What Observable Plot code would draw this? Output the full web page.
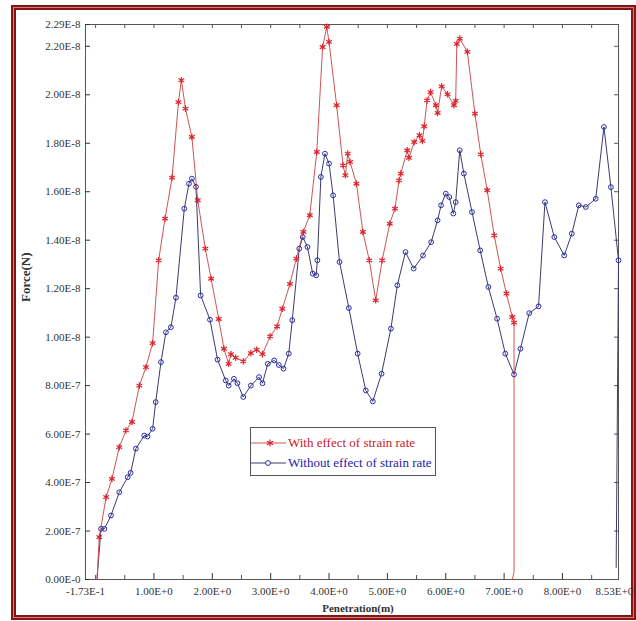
<!DOCTYPE html>
<html><head><meta charset="utf-8">
<script src="https://cdn.jsdelivr.net/npm/d3@7"></script>
<script src="https://cdn.jsdelivr.net/npm/@observablehq/plot@0.6"></script>
<style>
body{margin:0;background:#fff;}
#wrap{position:relative;width:636px;height:621px;overflow:hidden;}
#b1{position:absolute;left:11px;top:5px;width:621px;height:611px;border:2px solid #871414;background:#c98080;}
#b2{position:absolute;left:14px;top:8px;width:615px;height:605px;border:2px solid #871414;background:#fff;}
#chart{position:absolute;left:0;top:0;}
#legend{position:absolute;left:250px;top:427px;width:184px;height:47px;border:1px solid #555;background:#fff;font-family:"Liberation Serif",serif;font-size:13px;}
#legend svg{position:absolute;left:0;top:0;}
#legend span{position:absolute;left:37px;white-space:nowrap;line-height:1;}
</style></head>
<body>
<div id="wrap">
  <div id="b1"></div><div id="b2"></div>
  <div id="chart"></div>
  <div id="legend"></div>
</div>
<script>
// "With effect of strain rate"
const withX = [0.024,0.063,0.18,0.28,0.406,0.52,0.623,0.75,0.863,0.977,1.08,1.19,1.31,1.42,1.47,1.54,1.65,1.75,1.88,1.98,2.11,2.20,2.28,2.32,2.40,2.53,2.66,2.76,2.86,2.99,3.11,3.20,3.33,3.44,3.56,3.67,3.79,3.89,3.96,4.00,4.13,4.24,4.28,4.32,4.36,4.47,4.58,4.69,4.80,4.91,5.04,5.13,5.20,5.23,5.34,5.37,5.46,5.55,5.60,5.63,5.68,5.74,5.83,5.86,5.93,6.03,6.14,6.17,6.19,6.24,6.37,6.50,6.60,6.71,6.83,6.94,7.04,7.14,7.17,7.17,7.14];
const withY = [0,0.175,0.34,0.415,0.546,0.615,0.65,0.80,0.876,0.975,1.317,1.489,1.658,1.97,2.06,1.943,1.826,1.565,1.365,1.241,1.075,0.952,0.89,0.93,0.915,0.90,0.934,0.948,0.93,1.003,1.044,1.117,1.22,1.324,1.434,1.503,1.764,2.197,2.28,2.218,1.957,1.709,1.668,1.757,1.723,1.633,1.434,1.317,1.152,1.317,1.468,1.53,1.647,1.675,1.771,1.74,1.805,1.833,1.81,1.87,1.977,2.011,1.957,1.925,2.035,2.002,1.957,1.975,2.21,2.232,2.177,1.922,1.754,1.606,1.42,1.283,1.18,1.083,1.06,0.03,0];
// "Without effect of strain rate"
const withoutX = [0.024,0.093,0.15,0.264,0.406,0.55,0.60,0.69,0.834,0.89,0.977,1.03,1.12,1.205,1.29,1.377,1.52,1.60,1.65,1.72,1.80,1.96,2.09,2.23,2.28,2.37,2.43,2.53,2.66,2.80,2.86,2.95,3.06,3.14,3.22,3.31,3.37,3.49,3.55,3.63,3.72,3.78,3.80,3.86,3.93,4.00,4.07,4.18,4.34,4.49,4.63,4.75,4.90,5.06,5.17,5.31,5.45,5.61,5.75,5.86,5.92,6.00,6.06,6.13,6.17,6.24,6.31,6.45,6.59,6.73,6.88,7.02,7.17,7.28,7.43,7.59,7.70,7.86,8.03,8.16,8.28,8.40,8.57,8.71,8.83,8.96,8.92];
const withoutY = [0,0.209,0.209,0.264,0.36,0.422,0.44,0.54,0.594,0.59,0.622,0.732,0.897,1.02,1.041,1.163,1.53,1.633,1.654,1.62,1.172,1.072,0.907,0.821,0.80,0.828,0.81,0.753,0.80,0.835,0.81,0.89,0.904,0.885,0.87,0.932,1.07,1.365,1.413,1.372,1.262,1.255,1.317,1.661,1.757,1.716,1.585,1.31,1.12,0.932,0.78,0.735,0.849,1.035,1.214,1.351,1.283,1.337,1.392,1.482,1.544,1.592,1.578,1.51,1.557,1.771,1.675,1.516,1.358,1.207,1.076,0.932,0.846,0.952,1.099,1.127,1.557,1.413,1.337,1.427,1.544,1.537,1.571,1.867,1.619,1.317,0.05];

const seriesNames = ["With effect of strain rate","Without effect of strain rate"];
const xTickValues = [-0.173,1,2,3,4,5,6,7,8,8.89];
const xTickLabels = ["-1.73E-1","1.00E+0","2.00E+0","3.00E+0","4.00E+0","5.00E+0","6.00E+0","7.00E+0","8.00E+0","8.53E+0"];
const xMinorTicks = [0,0.5,1.5,2.5,3.5,4.5,5.5,6.5,7.5,8.5];
const yTickValues = [0,0.2,0.4,0.6,0.8,1.0,1.2,1.4,1.6,1.8,2.0,2.2,2.29];
const yTickLabels = ["0.00E-0","2.00E-7","4.00E-7","6.00E-7","8.00E-7","1.00E-8","1.20E-8","1.40E-8","1.60E-8","1.80E-8","2.00E-8","2.20E-8","2.29E-8"];
const xLabel = "Penetration(m)";
const yLabel = "Force(N)";

const withData = withX.map((x,i)=>({x, y: withY[i]}));
const withoutData = withoutX.map((x,i)=>({x, y: withoutY[i]}));

const redLine = "#d05555", redMark = "#e0202a", blueLine = "#3b3b6e", blueMark = "#2b2ba8";
const W = 636-85-18, H = 621-24-42;

const chart = Plot.plot({
  width:636, height:621,
  marginLeft:85, marginRight:18, marginTop:24, marginBottom:42,
  x:{domain:[-0.173,8.96]},
  y:{domain:[0,2.29]},
  style:{fontFamily:"'Liberation Serif', serif", fontSize:"11px", color:"#333", background:"transparent"},
  marks:[
    Plot.frame({stroke:"#555"}),
    Plot.axisX({ticks:xTickValues, tickFormat:d=>xTickLabels[xTickValues.indexOf(d)], tickSize:0, tickPadding:8, label:null}),
    Plot.axisY({ticks:yTickValues, tickFormat:d=>yTickLabels[yTickValues.indexOf(d)], tickSize:0, tickPadding:5, label:null}),
    Plot.tickX(xTickValues.slice(1,9), {x:d=>d, insetTop:H-6, stroke:"#333"}),
    Plot.tickX(xMinorTicks, {x:d=>d, insetTop:H-4, stroke:"#555"}),
    Plot.tickX(xTickValues.slice(1,9).concat(xMinorTicks), {x:d=>d, insetBottom:H-4, stroke:"#555"}),
    Plot.tickY(yTickValues, {y:d=>d, insetRight:W-5, stroke:"#333"}),
    Plot.tickY(yTickValues, {y:d=>d, insetLeft:W-4, stroke:"#555"}),
    Plot.line(withoutData, {x:"x", y:"y", stroke:blueLine, strokeWidth:1}),
    Plot.line(withData, {x:"x", y:"y", stroke:redLine, strokeWidth:1}),
    Plot.dot(withoutData.filter(d=>d.y>0.1), {x:"x", y:"y", symbol:"circle", r:2.4, stroke:blueMark, strokeWidth:1, fill:"none"}),
    Plot.dot(withData.filter(d=>d.y>0.1), {x:"x", y:"y", symbol:"asterisk", r:3.1, stroke:redMark, strokeWidth:1.2}),
    Plot.text([yLabel], {text:d=>d, frameAnchor:"left", dx:-60, rotate:-90, fontWeight:"bold", fontSize:13, fill:"#333"}),
    Plot.text([xLabel], {text:d=>d, frameAnchor:"bottom", dy:32, dx:6, fontWeight:"bold", fontSize:11, fill:"#333"})
  ]
});
document.getElementById("chart").appendChild(chart);

const lg = document.getElementById("legend");
lg.innerHTML = `<svg width="40" height="47">
  <line x1="0" y1="15" x2="35" y2="15" stroke="${redLine}"/>
  <path d="M19,11.4V18.6M15.9,13.2L22.1,16.8M15.9,16.8L22.1,13.2" stroke="${redMark}" stroke-width="1.2" fill="none"/>
  <line x1="0" y1="35" x2="35" y2="35" stroke="${blueLine}"/>
  <circle cx="17" cy="35" r="2.4" stroke="${blueMark}" fill="#fff"/>
</svg>
<span style="top:8px;color:#c8202a">${seriesNames[0]}</span>
<span style="top:28px;color:#2424a8">${seriesNames[1]}</span>`;
</script>
</body></html>
